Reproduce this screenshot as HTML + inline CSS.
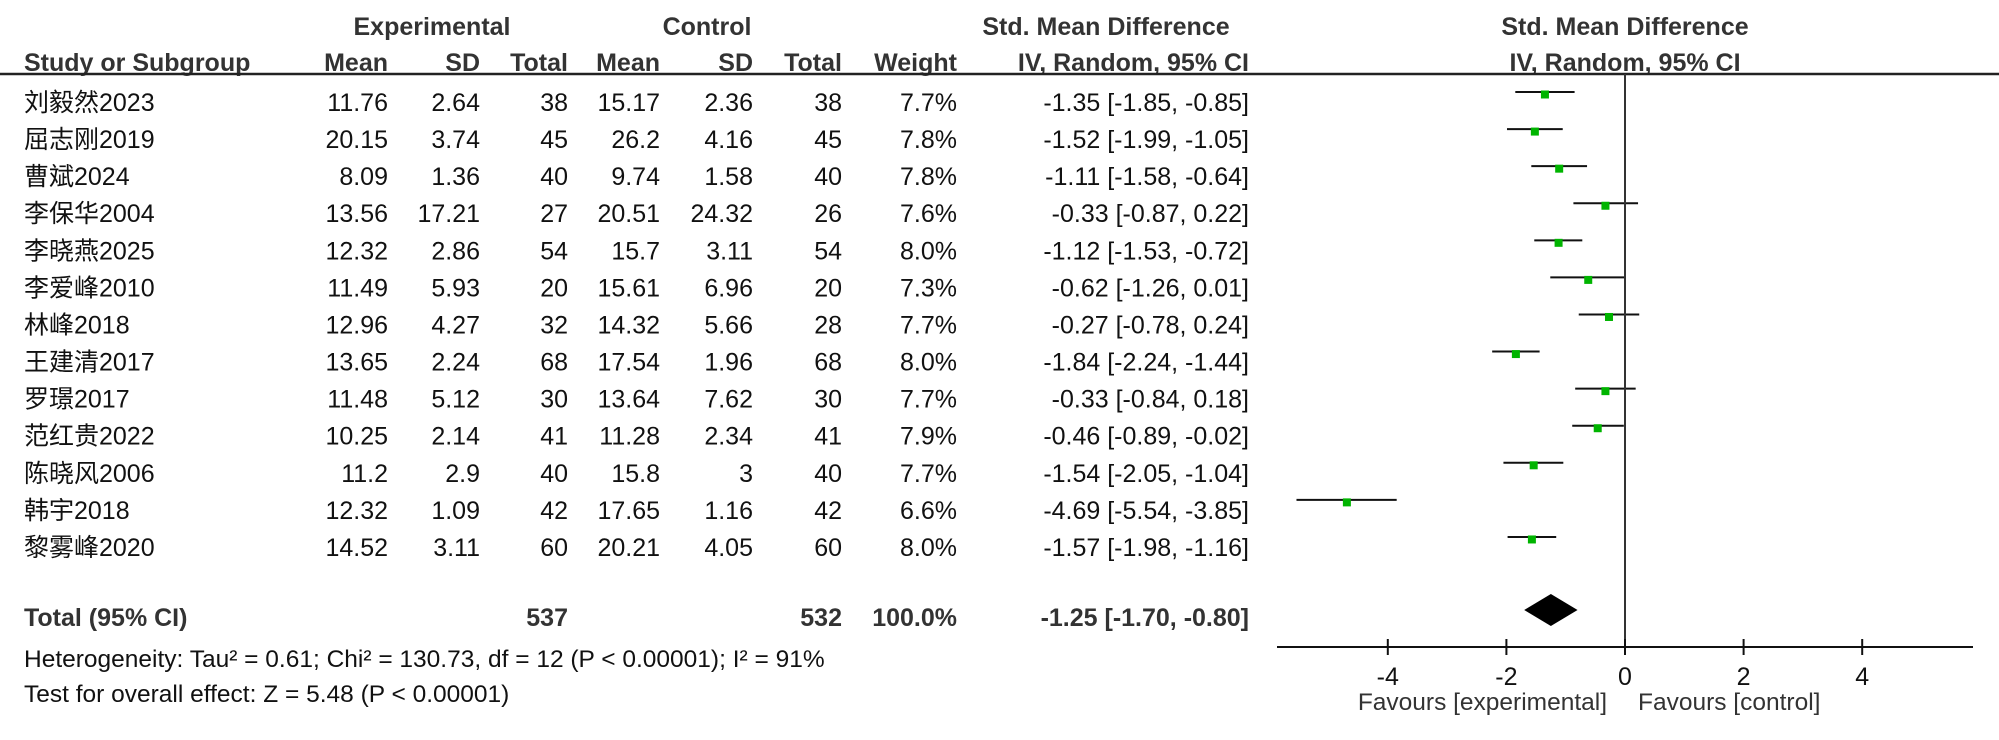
<!DOCTYPE html>
<html><head><meta charset="utf-8"><style>
html,body{margin:0;padding:0;background:#fff;}
svg{display:block;font-family:"Liberation Sans","Noto Sans CJK SC",sans-serif;}
</style></head><body>
<svg id="plot" width="1999" height="740" viewBox="0 0 1999 740">
<g id="hdr" fill="#333" font-weight="bold" font-size="25">
  <text x="432" y="35" text-anchor="middle">Experimental</text>
  <text x="707" y="35" text-anchor="middle">Control</text>
  <text x="1106" y="35" text-anchor="middle">Std. Mean Difference</text>
  <text x="1625" y="35" text-anchor="middle">Std. Mean Difference</text>
  <text x="24" y="71">Study or Subgroup</text>
  <text x="388" y="71" text-anchor="end">Mean</text>
  <text x="480" y="71" text-anchor="end">SD</text>
  <text x="568" y="71" text-anchor="end">Total</text>
  <text x="660" y="71" text-anchor="end">Mean</text>
  <text x="753" y="71" text-anchor="end">SD</text>
  <text x="842" y="71" text-anchor="end">Total</text>
  <text x="957" y="71" text-anchor="end">Weight</text>
  <text x="1249" y="71" text-anchor="end">IV, Random, 95% CI</text>
  <text x="1625" y="71" text-anchor="middle">IV, Random, 95% CI</text>
</g>
<line x1="0" y1="74" x2="1999" y2="74" stroke="#222" stroke-width="2.5"/>
<g id="rows" font-size="25" fill="#111"></g>
<g id="marks"></g>
<g id="axis"></g>
<g font-size="25">
  <text x="24" y="626" font-weight="bold" fill="#333">Total (95% CI)</text>
  <text x="568" y="626" text-anchor="end" font-weight="bold" fill="#333">537</text>
  <text x="842" y="626" text-anchor="end" font-weight="bold" fill="#333">532</text>
  <text x="957" y="626" text-anchor="end" font-weight="bold" fill="#333">100.0%</text>
  <text x="1249" y="626" text-anchor="end" font-weight="bold" fill="#333">-1.25 [-1.70, -0.80]</text>
  <text x="24" y="667" fill="#111" font-size="24.5">Heterogeneity: Tau² = 0.61; Chi² = 130.73, df = 12 (P &lt; 0.00001); I² = 91%</text>
  <text x="24" y="702" fill="#111" font-size="24.5">Test for overall effect: Z = 5.48 (P &lt; 0.00001)</text>
</g>
</svg>
<script>
const studies = ["刘毅然2023","屈志刚2019","曹斌2024","李保华2004","李晓燕2025","李爱峰2010","林峰2018","王建清2017","罗璟2017","范红贵2022","陈晓风2006","韩宇2018","黎雾峰2020"];
const expMean = ["11.76","20.15","8.09","13.56","12.32","11.49","12.96","13.65","11.48","10.25","11.2","12.32","14.52"];
const expSD = ["2.64","3.74","1.36","17.21","2.86","5.93","4.27","2.24","5.12","2.14","2.9","1.09","3.11"];
const expN = [38,45,40,27,54,20,32,68,30,41,40,42,60];
const ctrlMean = ["15.17","26.2","9.74","20.51","15.7","15.61","14.32","17.54","13.64","11.28","15.8","17.65","20.21"];
const ctrlSD = ["2.36","4.16","1.58","24.32","3.11","6.96","5.66","1.96","7.62","2.34","3","1.16","4.05"];
const ctrlN = [38,45,40,26,54,20,28,68,30,41,40,42,60];
const weights = ["7.7%","7.8%","7.8%","7.6%","8.0%","7.3%","7.7%","8.0%","7.7%","7.9%","7.7%","6.6%","8.0%"];
const smd = [-1.35,-1.52,-1.11,-0.33,-1.12,-0.62,-0.27,-1.84,-0.33,-0.46,-1.54,-4.69,-1.57];
const lower = [-1.85,-1.99,-1.58,-0.87,-1.53,-1.26,-0.78,-2.24,-0.84,-0.89,-2.05,-5.54,-1.98];
const upper = [-0.85,-1.05,-0.64,0.22,-0.72,0.01,0.24,-1.44,0.18,-0.02,-1.04,-3.85,-1.16];
const totalEst = [-1.25];
const totalLower = [-1.70];
const totalUpper = [-0.80];
const tickValues = [-4,-2,0,2,4];

const NS="http://www.w3.org/2000/svg";
const x0=1625, pxu=59.3;
function xs(v){return x0+v*pxu;}
function rowBase(i){return 111+i*37.08;}
function mk(tag,attrs,parent,text){const e=document.createElementNS(NS,tag);for(const k in attrs)e.setAttribute(k,attrs[k]);if(text!==undefined)e.textContent=text;parent.appendChild(e);return e;}
function fmt(v){return v.toFixed(2);}
const rows=document.getElementById('rows'), marks=document.getElementById('marks'), axis=document.getElementById('axis');

studies.forEach((s,i)=>{
  const y=rowBase(i);
  const cols=[[s,24,'start'],[expMean[i],388,'end'],[expSD[i],480,'end'],[String(expN[i]),568,'end'],[ctrlMean[i],660,'end'],[ctrlSD[i],753,'end'],[String(ctrlN[i]),842,'end'],[weights[i],957,'end'],[fmt(smd[i])+' ['+fmt(lower[i])+', '+fmt(upper[i])+']',1249,'end']];
  cols.forEach((c,j)=>{
    const t=mk('text',{x:c[1],y:y,'text-anchor':c[2]},rows,c[0]);
    
    
  });
  const ly=y-19;
  const l=mk('line',{x1:xs(lower[i]),x2:xs(upper[i]),y1:ly,y2:ly,stroke:'#111','stroke-width':2},marks);
  
  
  const r=mk('rect',{x:xs(smd[i])-4,y:ly-1.5,width:8,height:8,fill:'#00b400'},marks);
  
  
});

const dy=610, dh=16;
const d=mk('polygon',{points:[xs(totalLower[0])+','+dy, xs(totalEst[0])+','+(dy-dh), xs(totalUpper[0])+','+dy, xs(totalEst[0])+','+(dy+dh)].join(' '),fill:'#000'},marks);



const zl=mk('line',{x1:x0,x2:x0,y1:74,y2:647,stroke:'#333','stroke-width':2},axis);


const al=mk('line',{x1:1277,x2:1973,y1:647,y2:647,stroke:'#111','stroke-width':2},axis);


tickValues.forEach(v=>{
  const t=mk('line',{x1:xs(v),x2:xs(v),y1:639,y2:655,stroke:'#111','stroke-width':2},axis);
  
  
  const lb=mk('text',{x:xs(v),y:685,'text-anchor':'middle','font-size':25,fill:'#111'},axis,String(v));
  
  
});
const f1=mk('text',{x:1607,y:710,'text-anchor':'end','font-size':24.5,fill:'#333'},axis,'Favours [experimental]');


const f2=mk('text',{x:1638,y:710,'font-size':24.5,fill:'#333'},axis,'Favours [control]');


</script>
</body></html>
